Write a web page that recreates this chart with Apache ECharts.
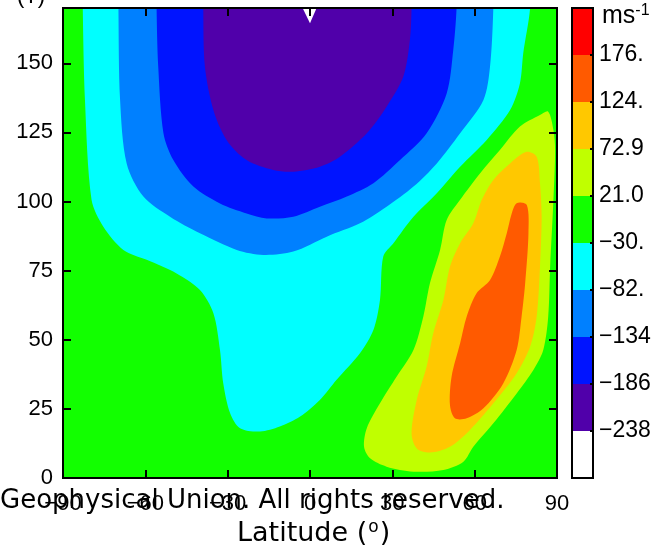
<!DOCTYPE html>
<html>
<head>
<meta charset="utf-8">
<script src="https://cdn.jsdelivr.net/npm/echarts@6/dist/echarts.min.js"></script>
<style>
html, body { margin: 0; padding: 0; background: #fff; }
#chart { width: 661px; height: 553px; }
</style>
</head>
<body>
<div id="chart"></div>
<script>
// colour bar: level labels (bottom -> top) and band colours (bottom -> top)
const levelLabels = ['\u2212238', '\u2212186', '\u2212134', '\u221282.', '\u221230.', '21.0', '72.9', '124.', '176.']
const bandColors = ['#ffffff', '#5000aa', '#0014ff', '#0080ff', '#00ffff', '#12ff00', '#c0ff00', '#ffc800', '#ff5a00', '#ff0000']
const latTicks = [-90, -60, -30, 0, 30, 60, 90]
const altTicks = [0, 25, 50, 75, 100, 125, 150]

// contour outlines, [latitude, altitude]
// (open regions start / end above the top edge and get clipped)
const cyanArea = [
	[-82.8, 185], [-82.8, 170], [-82.0, 136.7], [-79.6, 100.6], [-75.3, 90.9], [-68.0, 82.5],
	[-59.5, 78.9], [-48.6, 74.0], [-40.1, 68.0], [-35.2, 59.6], [-32.8, 46.3], [-31.6, 34.2],
	[-29.1, 23.4], [-25.5, 18.0], [-18.2, 16.8], [-11.0, 18.6], [-3.6, 22.2], [3.6, 28.2],
	[9.7, 35.5], [18.2, 45.1], [23.1, 53.5], [25.5, 64.4], [26.7, 80.1], [30.4, 84.9],
	[37.7, 94.5], [46.2, 103.0], [54.7, 112.6], [64.4, 122.3], [72.9, 133.1], [76.5, 142.8],
	[77.7, 153.6], [80.2, 170], [80.2, 185]
]
const lightBlueArea = [
	[-69.8, 185], [-69.8, 170], [-69.2, 136.7], [-66.8, 113.8], [-60.7, 101.8], [-51.0, 94.5],
	[-40.1, 88.5], [-26.7, 82.5], [-17.0, 80.7], [-6.1, 81.9], [6.1, 87.3], [18.2, 92.1],
	[27.9, 98.1], [37.7, 105.4], [46.2, 113.8], [54.7, 124.7], [63.2, 136.7], [65.6, 148.8],
	[66.8, 170], [66.8, 185]
]
const blueArea = [
	[-55.9, 185], [-55.9, 170], [-55.3, 148.8], [-53.4, 124.7], [-49.8, 115.0], [-42.5, 105.4],
	[-32.8, 99.3], [-23.1, 95.7], [-15.8, 93.9], [-6.1, 94.5], [3.6, 98.1], [13.4, 101.8],
	[23.1, 106.6], [32.8, 115.0], [42.5, 124.7], [49.8, 139.1], [52.2, 154.8], [53.4, 170],
	[53.4, 185]
]
const purpleArea = [
	[-38.9, 185], [-38.9, 170], [-38.3, 148.8], [-35.2, 133.1], [-30.4, 122.3], [-23.1, 115.0],
	[-13.4, 111.4], [-6.1, 110.8], [3.6, 112.6], [10.9, 116.2], [20.7, 124.7], [27.9, 134.3],
	[34.0, 145.2], [36.4, 158.4], [37.0, 170], [37.0, 185]
]
const whiteArea = [[-2.7, 170], [0.0, 164.5], [2.4, 170]]
const yellowGreenArea = [
	[86.8, 132.5], [88.7, 125.9], [89.3, 118.6], [88.7, 100.6], [87.5, 76.4], [86.8, 58.4],
	[85.0, 46.3], [81.4, 39.1], [75.3, 30.6], [66.8, 19.8], [59.5, 11.3], [55.9, 5.9],
	[48.6, 2.9], [37.7, 2.3], [27.9, 4.1], [21.9, 7.1], [19.7, 11.3], [20.7, 18.0],
	[25.5, 27.0], [31.6, 36.7], [37.7, 46.3], [41.3, 58.4], [43.7, 70.4], [47.4, 82.5],
	[49.8, 93.3], [54.7, 100.6], [62.0, 110.2], [69.2, 118.6], [76.5, 127.1], [83.8, 131.3]
]
const goldArea = [
	[78.9, 118.0], [82.6, 116.2], [83.8, 106.6], [84.4, 94.5], [83.8, 76.4], [82.6, 58.4],
	[80.2, 47.5], [75.3, 37.9], [66.8, 27.0], [58.3, 17.4], [51.0, 11.3], [43.7, 9.2],
	[38.9, 10.7], [37.0, 16.2], [38.9, 28.2], [42.5, 40.3], [44.9, 52.3], [48.6, 64.4],
	[51.0, 76.4], [54.7, 84.9], [59.5, 92.1], [62.6, 100.6], [66.8, 107.8], [72.9, 113.8]
]
const orangeArea = [
	[75.3, 99.4], [79.0, 98.7], [79.6, 88.5], [78.4, 70.4], [77.1, 58.4], [75.3, 46.3],
	[70.4, 34.2], [63.2, 25.2], [57.1, 21.6], [52.8, 21.6], [51.0, 26.4], [51.6, 36.7],
	[54.7, 48.7], [57.1, 58.4], [60.7, 66.8], [65.6, 71.6], [69.2, 80.1], [71.7, 88.5],
	[73.5, 95.7]
]

// drawing order: outer first
const areas = [
	{ color: bandColors[4], points: cyanArea, smooth: 0.3 },
	{ color: bandColors[3], points: lightBlueArea, smooth: 0.3 },
	{ color: bandColors[2], points: blueArea, smooth: 0.3 },
	{ color: bandColors[1], points: purpleArea, smooth: 0.3 },
	{ color: bandColors[0], points: whiteArea, smooth: 0 },
	{ color: bandColors[6], points: yellowGreenArea, smooth: 0.3 },
	{ color: bandColors[7], points: goldArea, smooth: 0.3 },
	{ color: bandColors[8], points: orangeArea, smooth: 0.3 }
]

const FONT = 'Liberation Sans'
const WIDE = 'DejaVu Sans'
const minus = (v) => (v < 0 ? '\u2212' + (-v) : String(v))

const plot = { left: 63, top: 8, width: 494, height: 470 }
const bar = { left: 572, top: 8, width: 21, height: 470 }

const tickStyle = { show: true, inside: true, length: 8, lineStyle: { color: '#000', width: 2 } }
const lineStyle = { show: true, onZero: false, lineStyle: { color: '#000', width: 2 } }

const myChart = echarts.init(document.getElementById('chart'))
const option = {
	animation: false,
	grid: [
		{
			left: plot.left, top: plot.top, width: plot.width, height: plot.height,
			show: true, backgroundColor: bandColors[5], borderWidth: 0
		},
		{ left: bar.left, top: bar.top, width: bar.width, height: bar.height }
	],
	xAxis: [
		{
			type: 'value', gridIndex: 0, position: 'bottom', min: -90, max: 90, interval: 30, z: 10,
			axisLine: lineStyle, axisTick: tickStyle, splitLine: { show: false },
			axisLabel: { fontFamily: FONT, fontSize: 22, color: '#000', margin: 15, formatter: minus }
		},
		{
			type: 'value', gridIndex: 0, position: 'top', min: -90, max: 90, interval: 30, z: 10,
			axisLine: lineStyle, axisTick: tickStyle, splitLine: { show: false }, axisLabel: { show: false }
		},
		{ type: 'value', gridIndex: 1, min: 0, max: 1, show: false }
	],
	yAxis: [
		{
			type: 'value', gridIndex: 0, position: 'left', min: 0, max: 170, interval: 25, z: 10,
			axisLine: lineStyle, axisTick: tickStyle, splitLine: { show: false },
			axisLabel: { fontFamily: FONT, fontSize: 22, color: '#000', margin: 10, showMaxLabel: false }
		},
		{
			type: 'value', gridIndex: 0, position: 'right', min: 0, max: 170, interval: 25, z: 10,
			axisLine: lineStyle, axisTick: tickStyle, splitLine: { show: false }, axisLabel: { show: false }
		},
		{
			type: 'value', gridIndex: 1, position: 'right', min: 0, max: 10, interval: 1, z: 10,
			axisLine: { show: false, onZero: false }, splitLine: { show: false },
			axisTick: { show: true, inside: true, length: 3, lineStyle: { color: '#000', width: 2 } },
			axisLabel: {
				fontFamily: FONT, fontSize: 23, color: '#000', margin: 6,
				formatter: function(v) {
					return v >= 1 && v <= 9 ? levelLabels[v - 1] : ''
				}
			}
		}
	],
	series: [
		{
			// filled contour regions
			type: 'custom',
			xAxisIndex: 0,
			yAxisIndex: 0,
			silent: true,
			data: areas.map((a, i) => [i, 0]),
			renderItem: function(params, api) {
				const area = areas[params.dataIndex]
				const cs = params.coordSys
				return {
					type: 'polygon',
					shape: { points: area.points.map((p) => api.coord(p)), smooth: area.smooth },
					style: { fill: area.color },
					clipPath: { type: 'rect', shape: { x: cs.x, y: cs.y, width: cs.width, height: cs.height } }
				}
			}
		},
		{
			// colour bar bands
			type: 'custom',
			xAxisIndex: 2,
			yAxisIndex: 2,
			silent: true,
			data: bandColors.map((c, i) => [0, i]),
			renderItem: function(params, api) {
				const i = params.dataIndex
				const p0 = api.coord([0, i + 1])
				const p1 = api.coord([1, i])
				return {
					type: 'rect',
					shape: { x: p0[0], y: p0[1], width: p1[0] - p0[0], height: p1[1] - p0[1] },
					style: { fill: bandColors[i] }
				}
			}
		}
	],
	graphic: [
		{
			type: 'rect', z: 100, silent: true,
			shape: { x: plot.left, y: plot.top, width: plot.width, height: plot.height },
			style: { fill: null, stroke: '#000', lineWidth: 2 }
		},
		{
			type: 'rect', z: 100, silent: true,
			shape: { x: bar.left, y: bar.top, width: bar.width, height: bar.height },
			style: { fill: null, stroke: '#000', lineWidth: 2 }
		},
		{
			// stem of the small white marker at the top
			type: 'line', z: 100, silent: true,
			shape: { x1: 310, y1: 8, x2: 310, y2: 15 },
			style: { stroke: '#000', lineWidth: 2 }
		},
		{
			type: 'text', left: 17, top: -14,
			style: { text: '(T)', fontFamily: FONT, fontSize: 22, fill: '#000' }
		},
		{
			type: 'text', left: 602, top: 3,
			style: {
				text: '{a|ms}{s|-1}',
				rich: {
					a: { fontFamily: FONT, fontSize: 25, fill: '#000', verticalAlign: 'bottom' },
					s: { fontFamily: FONT, fontSize: 16, fill: '#000', verticalAlign: 'top', padding: [0, 0, 10, 0] }
				}
			}
		},
		{
			type: 'text', left: 0, top: 488, z: 120,
			style: { text: 'Geophysical Union. All rights reserved.', fontFamily: WIDE, fontSize: 26, fill: '#000' }
		},
		{
			type: 'text', left: 237, top: 519,
			style: {
				text: '{a|Latitude (}{s|o}{a|)}',
				rich: {
					a: { fontFamily: WIDE, fontSize: 27, fill: '#000' },
					s: { fontFamily: WIDE, fontSize: 17, fill: '#000', padding: [0, 1, 12, 1] }
				}
			}
		}
	]
}
myChart.setOption(option)
</script>
</body>
</html>
